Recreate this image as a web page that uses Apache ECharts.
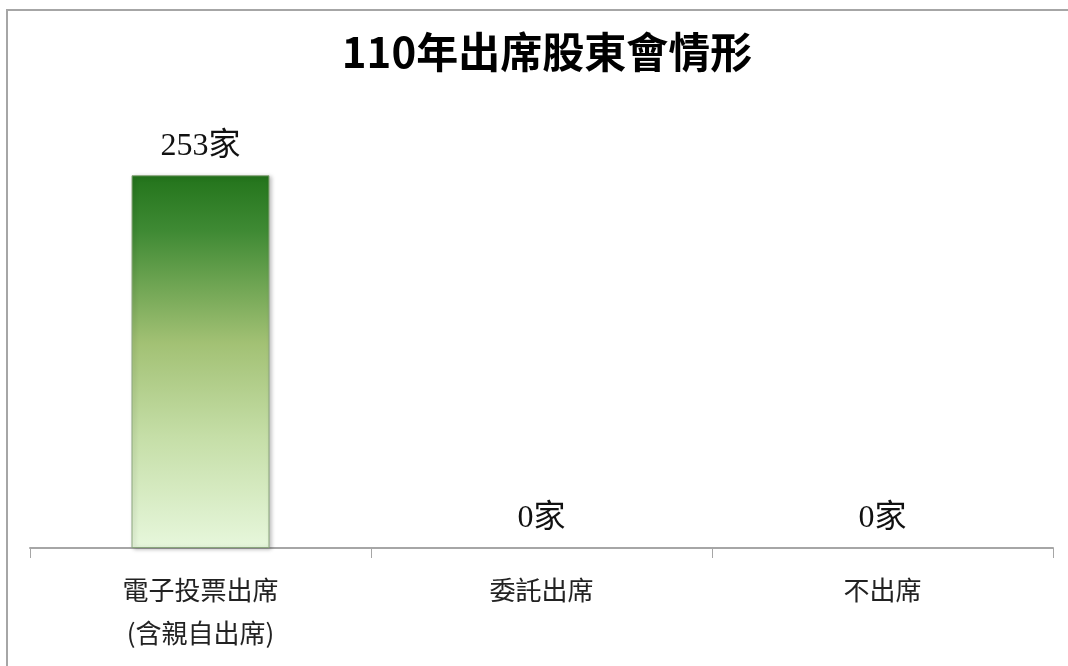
<!DOCTYPE html>
<html>
<head>
<meta charset="utf-8">
<style>
  html, body { margin: 0; padding: 0; background: #fff; }
  #chart { width: 1068px; height: 666px; }
</style>
<script src="https://cdn.jsdelivr.net/npm/echarts@6/dist/echarts.min.js"></script>
</head>
<body>
<div id="chart"></div>
<script>
var titleText = '110年出席股東會情形';
var categories = ['電子投票出席\n(含親自出席)', '委託出席', '不出席'];
var counts = [253, 0, 0];
var unit = '家';

var myChart = echarts.init(document.getElementById('chart'));

var barColor = new echarts.graphic.LinearGradient(0, 0, 0, 1, [
    { offset: 0, color: '#23741b' },
    { offset: 0.15, color: '#3f8a34' },
    { offset: 0.45, color: '#a2c174' },
    { offset: 0.7, color: '#c5dea7' },
    { offset: 1, color: '#e7f7dc' }
]);

// bevel border + shadow only on bars that actually have height
var barData = counts.map(function (v) {
    if (v > 0) {
        return {
            value: v,
            itemStyle: {
                borderColor: '#8aa57c',
                borderWidth: 1,
                shadowColor: 'rgba(0,0,0,0.25)',
                shadowBlur: 4,
                shadowOffsetX: 2,
                shadowOffsetY: 1
            }
        };
    }
    return { value: v, itemStyle: { borderWidth: 0 } };
});

var option = {
    animation: false,
    title: {
        text: titleText,
        left: 542,
        top: 26,
        textAlign: 'center',
        textStyle: {
            fontFamily: '"Noto Sans CJK TC", "Noto Sans", sans-serif',
            fontSize: 42,
            fontWeight: 'bold',
            color: '#000'
        }
    },
    graphic: [{
        type: 'rect',
        silent: true,
        shape: { x: 7, y: 10, width: 1100, height: 700 },
        style: { fill: 'none', stroke: '#a6a6a6', lineWidth: 2 }
    }],
    grid: {
        left: 30,
        right: 15,
        top: 106,
        bottom: 118
    },
    xAxis: {
        type: 'category',
        data: categories,
        axisLine: { lineStyle: { color: '#a6a6a6', width: 2 } },
        axisTick: { show: true, length: 10, lineStyle: { color: '#a6a6a6', width: 1 } },
        axisLabel: {
            margin: 21,
            fontFamily: '"Noto Sans CJK TC", sans-serif',
            fontSize: 26,
            lineHeight: 43,
            color: '#222'
        }
    },
    yAxis: {
        type: 'value',
        min: 0,
        max: 300,
        show: false
    },
    series: [{
        type: 'bar',
        data: barData,
        barWidth: 138,
        label: {
            show: true,
            position: 'top',
            distance: 13,
            formatter: function (p) { return p.value + unit; },
            fontFamily: '"Liberation Serif", "Noto Sans CJK TC", serif',
            fontSize: 32,
            color: '#111'
        },
        itemStyle: {
            color: barColor
        }
    }]
};

myChart.setOption(option);
</script>
</body>
</html>
